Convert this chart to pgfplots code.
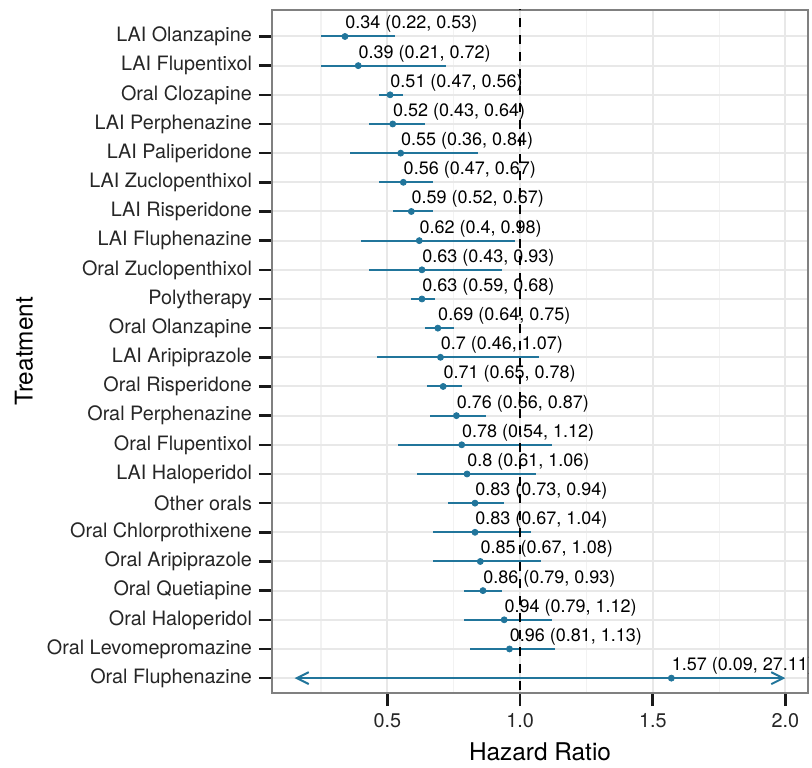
\documentclass[border=0pt]{standalone}
\usepackage{fontspec}
\setmainfont{TeX Gyre Heros}
\usepackage{pgfplots}
\usepackage{pgfplotstable}
\pgfplotsset{compat=1.18}
\usetikzlibrary{arrows.meta}
\definecolor{hrblue}{RGB}{33,117,155}

% y = row (1 at bottom), hr, drawn interval, label text
\pgfplotstableread[col sep=semicolon]{
y;hr;lo;hi;label
23;0.34;0.25;0.53;0.34 (0.22, 0.53)
22;0.39;0.25;0.72;0.39 (0.21, 0.72)
21;0.51;0.47;0.56;0.51 (0.47, 0.56)
20;0.52;0.43;0.64;0.52 (0.43, 0.64)
19;0.55;0.36;0.84;0.55 (0.36, 0.84)
18;0.56;0.47;0.67;0.56 (0.47, 0.67)
17;0.59;0.52;0.67;0.59 (0.52, 0.67)
16;0.62;0.40;0.98;0.62 (0.4, 0.98)
15;0.63;0.43;0.93;0.63 (0.43, 0.93)
14;0.63;0.59;0.68;0.63 (0.59, 0.68)
13;0.69;0.64;0.75;0.69 (0.64, 0.75)
12;0.70;0.46;1.07;0.7 (0.46, 1.07)
11;0.71;0.65;0.78;0.71 (0.65, 0.78)
10;0.76;0.66;0.87;0.76 (0.66, 0.87)
9;0.78;0.54;1.12;0.78 (0.54, 1.12)
8;0.80;0.61;1.06;0.8 (0.61, 1.06)
7;0.83;0.73;0.94;0.83 (0.73, 0.94)
6;0.83;0.67;1.04;0.83 (0.67, 1.04)
5;0.85;0.67;1.08;0.85 (0.67, 1.08)
4;0.86;0.79;0.93;0.86 (0.79, 0.93)
3;0.94;0.79;1.12;0.94 (0.79, 1.12)
2;0.96;0.81;1.13;0.96 (0.81, 1.13)
1;1.57;1.57;1.57;1.57 (0.09, 27.11)
}\data

\begin{document}
\begin{tikzpicture}
\begin{axis}[name=ax, scale only axis, width=268pt, height=341.75pt,
  xmin=0.065, xmax=2.085, ymin=0.49, ymax=23.925,
  xtick={0.5,1,1.5,2}, minor xtick={0.25,0.75,1.25,1.75},
  xticklabel style={/pgf/number format/.cd, fixed, fixed zerofill, precision=1},
  /pgf/number format/assume math mode=true,
  ytick={1,...,23},
  yticklabels={Oral Fluphenazine, Oral Levomepromazine, Oral Haloperidol, Oral Quetiapine,
    Oral Aripiprazole, Oral Chlorprothixene, Other orals, LAI Haloperidol, Oral Flupentixol,
    Oral Perphenazine, Oral Risperidone, LAI Aripiprazole, Oral Olanzapine, Polytherapy,
    Oral Zuclopenthixol, LAI Fluphenazine, LAI Risperidone, LAI Zuclopenthixol,
    LAI Paliperidone, LAI Perphenazine, Oral Clozapine, LAI Flupentixol, LAI Olanzapine},
  grid=both, major grid style={line width=1pt, color=black!9},
  minor grid style={line width=0.6pt, color=black!5},
  axis line style={line width=1pt, black!50},
  tick align=outside, tick pos=left, major tick length=6.5pt, minor tick length=0pt,
  major tick style={line width=1.3pt, black!90},
  tick label style={font=\fontsize{9.9}{11}\selectfont, text=black!85},
  xlabel={Hazard Ratio}, ylabel={Treatment},
  label style={font=\fontsize{12.2}{14}\selectfont},
  xlabel style={at={(axis description cs:0.5,-0.098)}, anchor=base},
  ylabel style={at={(axis description cs:-0.4627,0.5)}, anchor=center},
  clip marker paths=true]
\addplot[hrblue, line width=1pt, {Straight Barb[length=6pt,width=6pt]}-{Straight Barb[length=6pt,width=6pt]}]
  coordinates {(0.15,1) (2.0,1)};
\addplot[only marks, mark=*, mark size=1.5pt, color=hrblue,
  point meta=explicit symbolic, nodes near coords={\pgfplotspointmeta},
  nodes near coords style={anchor=base west, inner sep=0pt, yshift=3.75pt,
    font=\fontsize{9}{10}\selectfont, text=black},
  error bars/.cd, x dir=both, x explicit, error mark=none,
  error bar style={line width=1pt}]
  table[x=hr, y=y, x error plus expr=\thisrow{hi}-\thisrow{hr},
    x error minus expr=\thisrow{hr}-\thisrow{lo}, meta=label] {\data};
\addplot[black, line width=1pt, dash pattern=on 4.5pt off 4pt] coordinates {(1,0) (1,25)};
\end{axis}
\path ([xshift=-136pt,yshift=-36pt]ax.south west) rectangle ([xshift=2pt,yshift=4.75pt]ax.north east);
\end{tikzpicture}
\end{document}
